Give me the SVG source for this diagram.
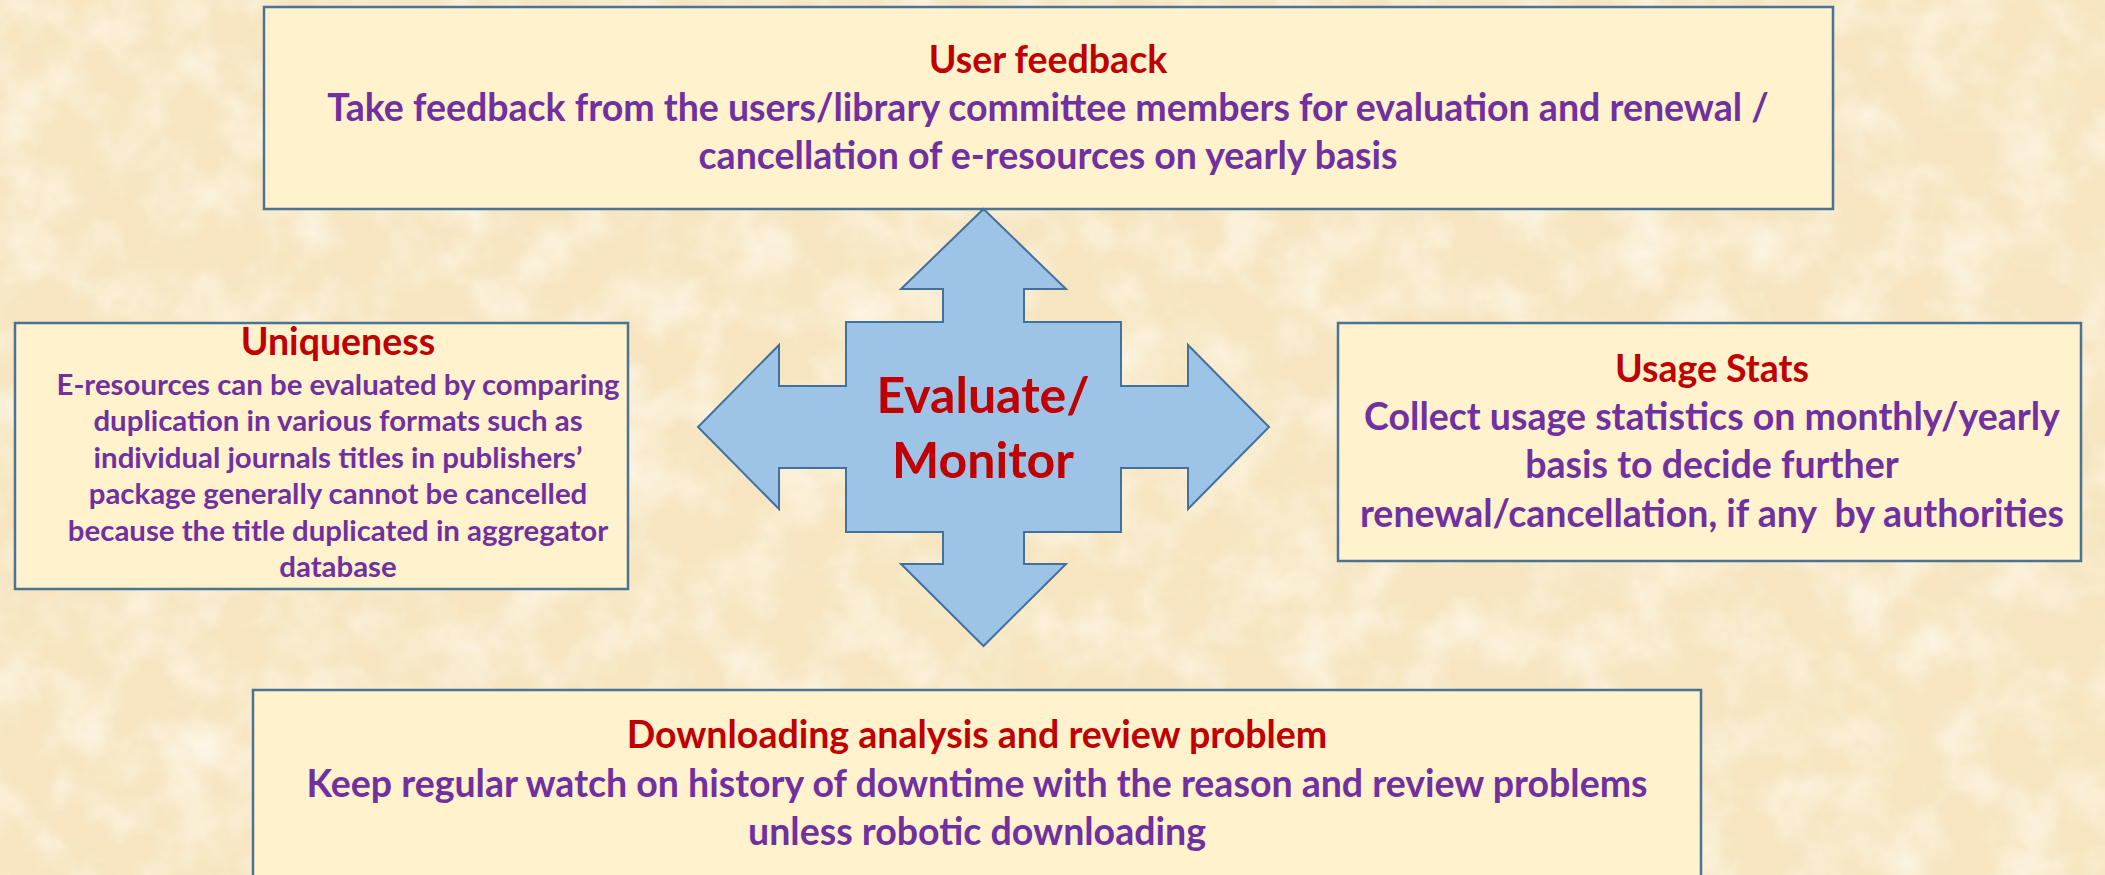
<svg xmlns="http://www.w3.org/2000/svg" width="2105" height="875" viewBox="0 0 2105 875">
<defs>
<filter id="parch" x="0" y="0" width="100%" height="100%">
<feTurbulence type="fractalNoise" baseFrequency="0.018" numOctaves="4" seed="7"/>
<feColorMatrix type="matrix" values="0 0 0 0 1  0 0 0 0 0.965  0 0 0 0 0.88  1.5 0 0 0 -0.6"/>
</filter>
<style>
.box{fill:#FFF2CC;stroke:#4A7394;stroke-width:2.5}
.arrow{fill:#9DC3E6;stroke:#41719C;stroke-width:2;stroke-linejoin:miter}
text{font-family:Lato,"Open Sans","Liberation Sans",sans-serif;font-weight:bold;text-anchor:middle}
.t{fill:#C00000;font-size:37.5px}
.b{fill:#7030A0;font-size:37.5px}
.s{fill:#7030A0;font-size:29.4px}
.c{fill:#C00000;font-size:50px}
</style>
</defs>
<rect x="0" y="0" width="2105" height="875" fill="#F6E5C0"/>
<rect x="0" y="0" width="2105" height="875" filter="url(#parch)"/>
<g id="connectors"></g>
<g id="node-top">
<rect class="box" x="264" y="7" width="1569" height="202"/>
<text class="t" x="1048" y="73">User feedback</text>
<text class="b" x="1048" y="121">Take feedback from the users/library committee members for evaluation and renewal /</text>
<text class="b" x="1048" y="169">cancellation of e-resources on yearly basis</text>
</g>
<g id="node-left">
<rect class="box" x="15" y="323" width="613" height="266"/>
<text class="t" x="338" y="355">Uniqueness</text>
<text class="s" x="338" y="395">E-resources can be evaluated by comparing</text>
<text class="s" x="338" y="431.4">duplication in various formats such as</text>
<text class="s" x="338" y="467.8">individual journals titles in publishers’</text>
<text class="s" x="338" y="504.2">package generally cannot be cancelled</text>
<text class="s" x="338" y="540.6">because the title duplicated in aggregator</text>
<text class="s" x="338" y="577">database</text>
</g>
<g id="node-right">
<rect class="box" x="1338" y="323" width="743" height="238"/>
<text class="t" x="1712" y="382">Usage Stats</text>
<text class="b" x="1712" y="430">Collect usage statistics on monthly/yearly</text>
<text class="b" x="1712" y="478">basis to decide further</text>
<text class="b" x="1712" y="527">renewal/cancellation, if any&#160; by authorities</text>
</g>
<g id="node-bottom">
<rect class="box" x="253" y="690" width="1448" height="200"/>
<text class="t" x="977" y="748">Downloading analysis and review problem</text>
<text class="b" x="977" y="797">Keep regular watch on history of downtime with the reason and review problems</text>
<text class="b" x="977" y="845">unless robotic downloading</text>
</g>
<g id="node-center">
<polygon class="arrow" points="983.5,209 1066,289 1024,289 1024,322 1121,322 1121,386 1188,386 1188,345 1269,427 1188,509 1188,468 1121,468 1121,532 1024,532 1024,564 1066,564 983.5,646 901,564 943,564 943,532 846,532 846,468 779,468 779,509 698,427 779,345 779,386 846,386 846,322 943,322 943,289 901,289"/>
<text class="c" x="983" y="413">Evaluate/</text>
<text class="c" x="983" y="478">Monitor</text>
</g>
</svg>
